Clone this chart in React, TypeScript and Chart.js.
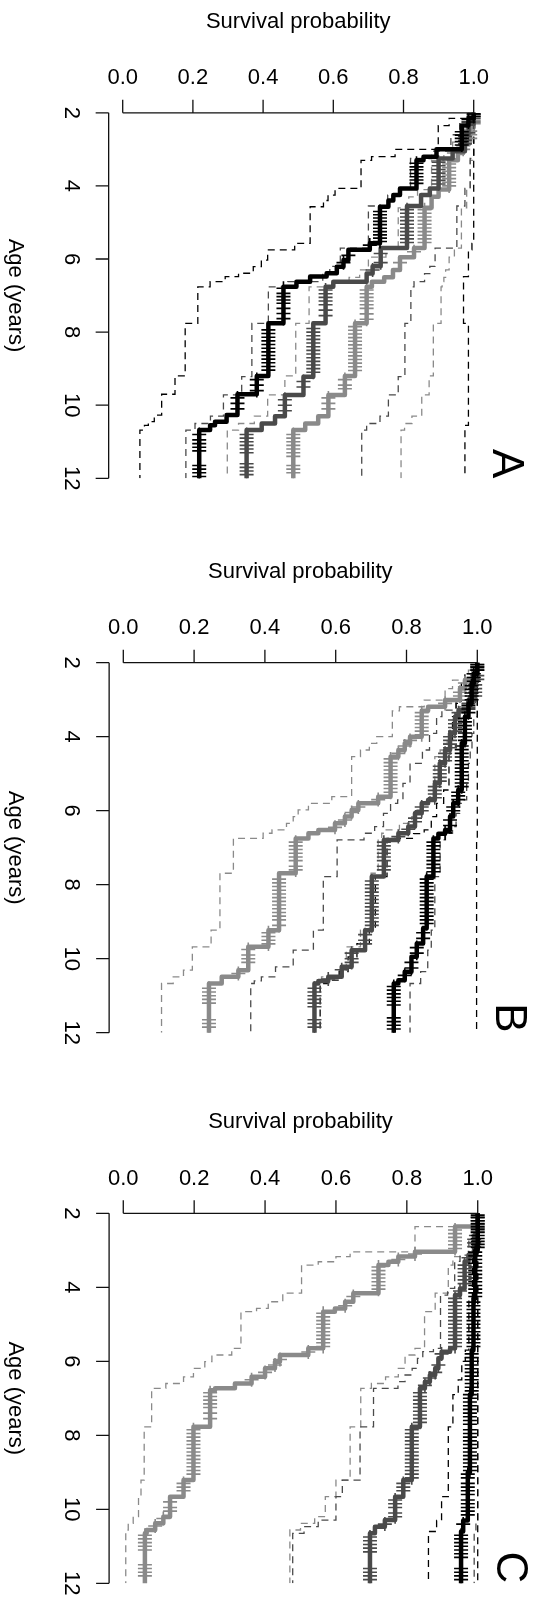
import React, { useEffect, useRef } from "react";
import { Chart, registerables } from "chart.js";

Chart.register(...registerables);

type Step = [number, number];

const ageTicks = [2, 4, 6, 8, 10, 12];
const survTicks = [0, 0.2, 0.4, 0.6, 0.8, 1.0];
const survTickLabels = ["0.0", "0.2", "0.4", "0.6", "0.8", "1.0"];
const xTitle = "Survival probability";
const yTitle = "Age (years)";
const ageMax = 12;

// ---------- Panel A ----------
const aBlack: Step[] = [[2,1],[2.15,0.985],[2.35,0.966],[3.0,0.894],[3.2,0.857],[3.3,0.837],[4.07,0.79],[4.25,0.771],[4.4,0.757],[4.57,0.733],[5.57,0.704],[5.75,0.643],[6.03,0.629],[6.21,0.61],[6.39,0.581],[6.48,0.534],[6.62,0.495],[6.76,0.458],[7.76,0.415],[9.2,0.382],[9.7,0.327],[10.27,0.296],[10.45,0.263],[10.55,0.249],[10.68,0.218]];
const aBlackLo: Step[] = [[2,1],[2.15,0.93],[2.35,0.899],[3.0,0.776],[3.2,0.709],[3.3,0.679],[4.07,0.605],[4.25,0.585],[4.4,0.572],[4.57,0.534],[5.57,0.49],[5.75,0.413],[6.03,0.395],[6.21,0.372],[6.39,0.33],[6.48,0.292],[6.62,0.249],[6.76,0.214],[7.76,0.178],[9.2,0.149],[9.7,0.111],[10.27,0.09],[10.45,0.073],[10.55,0.062],[10.68,0.049]];
const aBlackHi: Step[] = [[2,1],[5.57,0.995],[5.75,0.985],[6.48,0.971],[7.76,0.985],[10.55,0.975]];
const aBlackCens = [2.03,2.1,2.18,2.25,2.52,2.61,2.7,2.79,2.88,3.38,3.48,3.56,3.66,3.75,3.84,3.93,4.7,4.79,4.88,4.97,5.06,5.16,5.25,5.34,5.43,5.52,5.62,5.9,6.1,6.8,6.94,7.03,7.12,7.21,7.35,7.49,7.63,7.94,8.04,8.14,8.24,8.34,8.44,8.54,8.64,8.74,8.84,8.94,9.04,9.3,9.45,9.6,9.8,9.95,10.1,10.8,10.95,11.05,11.15,11.25,11.65,11.75,11.85,11.95];

const aDark: Step[] = [[2,1],[2.3,0.985],[2.6,0.975],[3.05,0.94],[3.25,0.9],[4.07,0.875],[4.25,0.85],[4.55,0.81],[5.7,0.735],[6.2,0.712],[6.4,0.695],[6.62,0.6],[6.76,0.578],[7.76,0.543],[9.22,0.515],[9.72,0.462],[10.3,0.434],[10.5,0.396],[10.68,0.353]];
const aDarkLo: Step[] = [[2,1],[2.3,0.96],[2.6,0.935],[3.05,0.88],[3.25,0.82],[4.07,0.785],[4.25,0.755],[4.55,0.7],[5.7,0.62],[6.2,0.59],[6.4,0.57],[6.62,0.47],[6.76,0.415],[7.76,0.368],[9.22,0.339],[9.72,0.287],[10.3,0.25],[10.5,0.206],[10.68,0.18]];
const aDarkHi: Step[] = [[2,1],[3.25,0.99],[4.07,0.975],[4.55,0.952],[5.7,0.89],[6.2,0.875],[6.4,0.86],[6.62,0.83],[6.76,0.821],[7.76,0.804],[9.22,0.785],[9.72,0.757],[10.3,0.733],[10.5,0.695],[10.68,0.681]];
const aDarkCens = [2.05,2.15,2.25,2.55,2.65,2.75,2.85,3.35,3.45,3.55,3.65,3.75,3.85,3.95,4.65,4.75,4.85,4.95,5.05,5.15,5.25,5.35,5.45,5.55,5.85,6.1,6.3,6.85,6.95,7.05,7.15,7.25,7.4,7.55,7.9,8.0,8.1,8.2,8.3,8.4,8.5,8.6,8.7,8.8,8.9,9.0,9.1,9.35,9.5,9.85,10.0,10.15,10.8,10.9,11.0,11.1,11.2,11.3,11.6,11.7,11.8,11.9];

const aLight: Step[] = [[2,1],[2.4,0.99],[2.8,0.97],[3.1,0.955],[3.3,0.93],[4.1,0.9],[4.3,0.88],[4.6,0.86],[5.7,0.83],[5.95,0.79],[6.3,0.77],[6.5,0.745],[6.62,0.71],[6.76,0.695],[7.76,0.662],[9.2,0.633],[9.72,0.586],[10.3,0.557],[10.5,0.52],[10.68,0.486]];
const aLightLo: Step[] = [[2,1],[2.4,0.975],[2.8,0.94],[3.1,0.915],[3.3,0.88],[4.1,0.84],[4.3,0.815],[4.6,0.785],[5.7,0.75],[5.95,0.7],[6.3,0.675],[6.5,0.645],[6.62,0.6],[6.76,0.531],[7.76,0.493],[9.2,0.462],[9.72,0.413],[10.3,0.375],[10.5,0.33],[10.68,0.298]];
const aLightHi: Step[] = [[2,1],[3.3,0.99],[4.1,0.98],[4.6,0.965],[5.7,0.945],[5.95,0.93],[6.3,0.92],[6.5,0.915],[6.62,0.91],[6.76,0.907],[7.76,0.885],[9.2,0.873],[9.72,0.852],[10.3,0.824],[10.5,0.803],[10.68,0.793]];
const aLightCens = [2.1,2.2,2.3,2.5,2.6,2.7,2.9,3.0,3.4,3.5,3.6,3.7,3.8,3.9,4.0,4.65,4.75,4.85,4.95,5.05,5.15,5.25,5.35,5.45,5.55,5.8,6.1,6.85,6.95,7.05,7.15,7.25,7.35,7.5,7.65,7.85,7.95,8.05,8.15,8.25,8.35,8.45,8.55,8.65,8.75,8.85,8.95,9.05,9.3,9.45,9.55,9.8,9.95,10.1,10.8,10.9,11.0,11.1,11.2,11.3,11.4,11.65,11.75,11.85];

// ---------- Panel B ----------
const bBlack: Step[] = [[2,1],[2.3,0.99],[2.56,0.984],[3.1,0.975],[3.46,0.965],[4.18,0.956],[5.44,0.946],[5.8,0.932],[6.16,0.923],[6.52,0.909],[6.62,0.89],[6.75,0.876],[7.78,0.857],[9.18,0.847],[9.59,0.829],[9.95,0.814],[10.35,0.795],[10.58,0.777],[10.67,0.764]];
const bBlackLo: Step[] = [[2,1],[2.3,0.965],[2.56,0.955],[3.1,0.94],[3.46,0.93],[4.18,0.92],[5.44,0.905],[5.8,0.885],[6.16,0.87],[6.52,0.85],[6.62,0.82],[6.75,0.745],[7.78,0.712],[9.18,0.695],[9.59,0.66],[9.95,0.635],[10.35,0.61],[10.58,0.58],[10.67,0.556]];
const bBlackHi: Step[] = [[2,1],[6.75,0.998]];
const bBlackCens = [2.05,2.12,2.2,2.3,2.4,2.5,2.62,2.72,2.82,2.9,3.0,3.15,3.25,3.35,3.5,3.6,3.7,3.8,3.9,4.0,4.1,4.25,4.35,4.45,4.55,4.65,4.75,4.85,4.95,5.05,5.15,5.25,5.35,5.5,5.6,5.7,5.9,6.0,6.25,6.4,6.6,6.85,6.95,7.05,7.15,7.25,7.35,7.45,7.55,7.65,7.85,7.95,8.05,8.15,8.25,8.35,8.45,8.55,8.65,8.75,8.85,8.95,9.05,9.3,9.45,9.7,9.85,10.1,10.25,10.45,10.75,10.85,10.95,11.05,11.15,11.25,11.6,11.7,11.8,11.9];

const bDark: Step[] = [[2,1],[2.5,0.994],[3.01,0.975],[3.28,0.947],[3.46,0.937],[3.91,0.923],[4.36,0.909],[4.72,0.894],[5.26,0.88],[5.71,0.861],[5.8,0.843],[6.07,0.824],[6.43,0.805],[6.61,0.777],[6.79,0.736],[7.78,0.702],[9.23,0.683],[9.77,0.645],[10.22,0.617],[10.49,0.579],[10.6,0.551],[10.67,0.54]];
const bDarkLo: Step[] = [[2,1],[2.5,0.98],[3.01,0.94],[3.28,0.9],[3.46,0.885],[3.91,0.865],[4.36,0.845],[4.72,0.81],[5.26,0.79],[5.71,0.775],[5.8,0.755],[6.07,0.735],[6.43,0.71],[6.61,0.68],[6.79,0.604],[7.78,0.565],[9.23,0.537],[9.77,0.48],[10.22,0.43],[10.49,0.39],[10.6,0.37],[10.67,0.36]];
const bDarkHi: Step[] = [[2,1],[3.46,0.99],[3.91,0.985],[4.36,0.98],[4.72,0.975],[5.26,0.97],[5.71,0.96],[5.8,0.95],[6.07,0.94],[6.43,0.93],[6.61,0.91],[6.79,0.895],[7.78,0.88],[9.23,0.87],[9.77,0.86],[10.35,0.84],[10.67,0.81]];
const bDarkCens = [2.1,2.2,2.35,2.45,2.6,2.7,2.8,2.9,3.1,3.2,3.35,3.55,3.65,3.75,3.85,4.0,4.1,4.2,4.3,4.45,4.55,4.65,4.8,4.9,5.0,5.1,5.2,5.35,5.45,5.55,5.65,5.9,6.0,6.2,6.3,6.5,6.7,6.85,6.95,7.05,7.15,7.25,7.35,7.5,7.6,7.9,8.0,8.1,8.2,8.3,8.4,8.5,8.6,8.7,8.8,8.9,9.0,9.1,9.35,9.5,9.6,9.85,10.0,10.1,10.3,10.55,10.8,10.9,11.0,11.1,11.2,11.3,11.65,11.75,11.85];

const bLight: Step[] = [[2,1],[2.2,0.989],[2.47,0.965],[2.7,0.951],[3.01,0.909],[3.19,0.861],[3.3,0.843],[4.0,0.81],[4.18,0.795],[4.36,0.777],[4.54,0.755],[5.62,0.72],[5.8,0.664],[5.98,0.645],[6.16,0.626],[6.34,0.598],[6.52,0.551],[6.61,0.523],[6.75,0.487],[7.69,0.44],[9.23,0.41],[9.68,0.353],[10.31,0.325],[10.49,0.278],[10.67,0.242]];
const bLightLo: Step[] = [[2,1],[2.2,0.975],[2.47,0.93],[2.7,0.909],[3.01,0.85],[3.19,0.78],[3.3,0.76],[4.0,0.716],[4.18,0.695],[4.36,0.67],[4.54,0.645],[5.62,0.589],[5.8,0.523],[5.98,0.494],[6.16,0.48],[6.34,0.461],[6.52,0.42],[6.61,0.395],[6.75,0.311],[7.69,0.273],[9.23,0.248],[9.68,0.195],[10.31,0.17],[10.49,0.141],[10.67,0.108]];
const bLightHi: Step[] = [[2,1],[3.01,0.97],[3.19,0.95],[3.3,0.94],[4.0,0.915],[4.18,0.905],[4.36,0.895],[4.54,0.88],[5.62,0.865],[5.8,0.84],[5.98,0.83],[6.16,0.815],[6.34,0.78],[6.52,0.74],[6.61,0.73],[6.75,0.72],[7.69,0.7],[9.23,0.67],[9.68,0.63],[10.31,0.61],[10.49,0.56],[10.67,0.54]];
const bLightCens = [2.05,2.15,2.3,2.4,2.55,2.65,2.8,2.9,3.1,3.35,3.45,3.55,3.65,3.75,3.85,3.95,4.1,4.25,4.45,4.6,4.7,4.8,4.9,5.0,5.1,5.2,5.3,5.4,5.5,5.7,5.9,6.05,6.25,6.45,6.85,6.95,7.05,7.15,7.25,7.35,7.5,7.6,7.85,7.95,8.05,8.15,8.25,8.35,8.45,8.55,8.65,8.75,8.85,8.95,9.1,9.3,9.4,9.5,9.6,9.75,9.9,10.0,10.1,10.4,10.8,10.9,11.0,11.1,11.2,11.65,11.75,11.85];

// ---------- Panel C ----------
const cBlack: Step[] = [[2,1],[3.0,0.993],[4.3,0.988],[5.7,0.983],[6.9,0.978],[9.0,0.972],[10.3,0.959],[10.6,0.953]];
const cBlackLo: Step[] = [[2,1],[3.0,0.985],[4.3,0.975],[5.7,0.965],[6.0,0.955],[6.5,0.945],[6.9,0.93],[7.77,0.917],[9.66,0.898],[10.3,0.884],[10.6,0.861]];
const cBlackHi: Step[] = [[2,1]];
const cBlackCens = [2.05,2.12,2.2,2.28,2.36,2.44,2.52,2.6,2.68,2.76,2.84,2.92,3.05,3.15,3.25,3.35,3.45,3.55,3.65,3.75,3.85,3.95,4.05,4.15,4.25,4.4,4.5,4.6,4.7,4.8,4.9,5.0,5.1,5.2,5.3,5.4,5.5,5.6,5.8,5.9,6.0,6.1,6.2,6.3,6.4,6.5,6.6,6.7,6.8,6.9,7.0,7.1,7.2,7.3,7.4,7.5,7.6,7.7,7.85,7.95,8.05,8.15,8.25,8.35,8.45,8.55,8.65,8.75,8.85,8.95,9.05,9.15,9.3,9.4,9.5,9.6,9.75,9.85,9.95,10.05,10.15,10.4,10.7,10.8,10.9,11.0,11.1,11.2,11.3,11.6,11.7,11.8,11.9];

const cDark: Step[] = [[2,1],[2.6,0.99],[3.13,0.974],[3.3,0.963],[4.03,0.95],[4.21,0.936],[5.65,0.922],[5.74,0.898],[5.92,0.889],[6.19,0.88],[6.37,0.865],[6.55,0.851],[6.73,0.837],[7.77,0.814],[9.21,0.79],[9.66,0.767],[10.29,0.738],[10.47,0.71],[10.65,0.696]];
const cDarkLo: Step[] = [[2,1],[2.6,0.975],[3.13,0.95],[3.3,0.935],[4.03,0.915],[4.21,0.895],[5.65,0.875],[5.74,0.845],[5.92,0.83],[6.19,0.815],[6.37,0.795],[6.55,0.775],[6.73,0.706],[7.77,0.668],[9.21,0.618],[9.66,0.6],[10.29,0.55],[10.47,0.51],[10.65,0.478]];
const cDarkHi: Step[] = [[2,1],[10.29,0.995],[10.65,0.99]];
const cDarkCens = [2.1,2.2,2.3,2.4,2.5,2.7,2.8,2.9,3.2,3.4,3.5,3.6,3.7,3.8,3.9,4.1,4.3,4.4,4.5,4.6,4.7,4.8,4.9,5.0,5.1,5.2,5.3,5.4,5.5,5.6,5.8,6.1,6.3,6.45,6.65,6.85,6.95,7.05,7.15,7.25,7.35,7.45,7.55,7.65,7.85,7.95,8.05,8.15,8.25,8.35,8.45,8.55,8.65,8.75,8.85,8.95,9.05,9.15,9.3,9.4,9.5,9.75,9.85,9.95,10.1,10.2,10.4,10.75,10.85,10.95,11.05,11.15,11.6,11.7,11.8,11.9];

const cLight: Step[] = [[2,1],[2.36,0.936],[3.04,0.823],[3.17,0.776],[3.31,0.748],[3.4,0.72],[4.16,0.649],[4.39,0.626],[4.57,0.597],[4.66,0.564],[5.65,0.522],[5.83,0.442],[6.01,0.428],[6.19,0.4],[6.42,0.362],[6.6,0.315],[6.73,0.259],[6.78,0.245],[7.77,0.198],[9.21,0.17],[9.66,0.132],[10.2,0.113],[10.38,0.09],[10.56,0.066],[10.65,0.061]];
const cLightLo: Step[] = [[2,1],[2.36,0.823],[3.04,0.64],[3.17,0.6],[3.31,0.55],[3.4,0.503],[4.16,0.45],[4.39,0.409],[4.57,0.376],[4.66,0.332],[5.65,0.306],[5.83,0.25],[6.01,0.23],[6.19,0.198],[6.42,0.17],[6.6,0.12],[6.73,0.08],[7.77,0.059],[9.21,0.05],[9.66,0.043],[10.2,0.028],[10.38,0.014],[10.56,0.007]];
const cLightHi: Step[] = [[2,1],[3.04,0.99],[3.17,0.93],[3.4,0.917],[4.16,0.88],[4.66,0.85],[5.65,0.823],[5.83,0.795],[6.19,0.776],[6.42,0.74],[6.6,0.7],[6.73,0.67],[7.77,0.64],[9.21,0.6],[9.66,0.57],[10.2,0.54],[10.38,0.5],[10.56,0.47]];
const cLightCens = [2.1,2.2,2.45,2.55,2.65,2.75,2.85,2.95,3.1,3.25,3.45,3.55,3.65,3.75,3.85,3.95,4.05,4.25,4.5,4.7,4.8,4.9,5.0,5.1,5.2,5.3,5.4,5.5,5.6,5.75,5.95,6.1,6.3,6.5,6.85,6.95,7.05,7.15,7.25,7.4,7.55,7.85,7.95,8.05,8.15,8.25,8.35,8.45,8.55,8.65,8.75,8.85,8.95,9.05,9.3,9.4,9.5,9.8,9.95,10.05,10.25,10.45,10.7,10.8,10.9,11.0,11.1,11.5,11.6,11.7,11.8];

// ---------- styling ----------
const BLACK = "#000000";
const DARK = "#4a4a4a";
const LIGHT = "#8a8a8a";
const FONT = '22px "Liberation Sans", Arial, Helvetica, sans-serif';
const LETTER_FONT = '44px "Liberation Sans", Arial, Helvetica, sans-serif';

type Group = { curve: Step[]; lo: Step[]; hi: Step[]; cens: number[]; color: string };

type PanelCfg = {
  letter: string;
  top: number;
  height: number;
  pad: { left: number; right: number; top: number; bottom: number };
  groups: Group[];
};

const panels: PanelCfg[] = [
  {
    letter: "A", top: 0, height: 530,
    pad: { left: 108.66, right: 50.26, top: 112.8, bottom: 51.7 },
    groups: [
      { curve: aLight, lo: aLightLo, hi: aLightHi, cens: aLightCens, color: LIGHT },
      { curve: aDark, lo: aDarkLo, hi: aDarkHi, cens: aDarkCens, color: DARK },
      { curve: aBlack, lo: aBlackLo, hi: aBlackHi, cens: aBlackCens, color: BLACK },
    ],
  },
  {
    letter: "B", top: 530, height: 545,
    pad: { left: 109.14, right: 46.54, top: 132.7, bottom: 42.3 },
    groups: [
      { curve: bLight, lo: bLightLo, hi: bLightHi, cens: bLightCens, color: LIGHT },
      { curve: bDark, lo: bDarkLo, hi: bDarkHi, cens: bDarkCens, color: DARK },
      { curve: bBlack, lo: bBlackLo, hi: bBlackHi, cens: bBlackCens, color: BLACK },
    ],
  },
  {
    letter: "C", top: 1075, height: 525,
    pad: { left: 109.1, right: 46.1, top: 138.3, bottom: 16.7 },
    groups: [
      { curve: cLight, lo: cLightLo, hi: cLightHi, cens: cLightCens, color: LIGHT },
      { curve: cDark, lo: cDarkLo, hi: cDarkHi, cens: cDarkCens, color: DARK },
      { curve: cBlack, lo: cBlackLo, hi: cBlackHi, cens: cBlackCens, color: BLACK },
    ],
  },
];

function stepPoints(steps: Step[]) {
  const pts = steps.map(([a, s]) => ({ x: s, y: a }));
  pts.push({ x: steps[steps.length - 1][1], y: ageMax });
  return pts;
}

function survAt(steps: Step[], age: number) {
  let s = steps[0][1];
  for (const [a, v] of steps) {
    if (a <= age) s = v;
    else break;
  }
  return s;
}

function buildDatasets(groups: Group[]) {
  const ds: any[] = [];
  const n = groups.length;
  groups.forEach((g, i) => {
    const base = (n - i) * 3;
    [g.lo, g.hi].forEach((ci) => {
      ds.push({
        type: "line",
        data: stepPoints(ci),
        borderColor: g.color,
        borderWidth: 1.3,
        borderDash: [7, 5],
        stepped: "after",
        pointRadius: 0,
        fill: false,
        order: 100 + base,
      });
    });
    ds.push({
      type: "line",
      data: stepPoints(g.curve),
      borderColor: g.color,
      borderWidth: 4.5,
      borderCapStyle: "round",
      borderJoinStyle: "round",
      stepped: "after",
      pointRadius: 0,
      fill: false,
      order: base + 1,
    });
    ds.push({
      type: "line",
      data: g.cens.map((a) => ({ x: survAt(g.curve, a), y: a })),
      showLine: false,
      pointStyle: "cross",
      pointRadius: 7,
      pointBorderWidth: 1.6,
      pointBorderColor: g.color,
      pointBackgroundColor: g.color,
      order: base,
    });
  });
  return ds;
}

function makeAxesPlugin(letter: string) {
  return {
    id: "rAxes" + letter,
    afterDraw(chart: any) {
      const { ctx, chartArea, scales } = chart;
      const xs = scales.x;
      const ys = scales.y;
      const top = chartArea.top;
      const left = chartArea.left;
      ctx.save();
      ctx.strokeStyle = "#111";
      ctx.lineWidth = 1.3;
      ctx.lineCap = "butt";
      ctx.setLineDash([]);
      ctx.beginPath();
      ctx.moveTo(xs.getPixelForValue(survTicks[0]), top);
      ctx.lineTo(xs.getPixelForValue(survTicks[survTicks.length - 1]), top);
      survTicks.forEach((v) => {
        const px = xs.getPixelForValue(v);
        ctx.moveTo(px, top);
        ctx.lineTo(px, top - 13);
      });
      ctx.moveTo(left, ys.getPixelForValue(ageTicks[0]));
      ctx.lineTo(left, ys.getPixelForValue(ageTicks[ageTicks.length - 1]));
      ageTicks.forEach((v) => {
        const py = ys.getPixelForValue(v);
        ctx.moveTo(left, py);
        ctx.lineTo(left - 13, py);
      });
      ctx.stroke();

      ctx.fillStyle = "#000";
      ctx.font = FONT;
      ctx.textAlign = "center";
      ctx.textBaseline = "alphabetic";
      survTicks.forEach((v, i) => {
        ctx.fillText(survTickLabels[i], xs.getPixelForValue(v), top - 28.5);
      });
      ctx.fillText(xTitle, (chartArea.left + chartArea.right) / 2, top - 85.2);

      ageTicks.forEach((v) => {
        ctx.save();
        ctx.translate(left - 44, ys.getPixelForValue(v));
        ctx.rotate(Math.PI / 2);
        ctx.fillText(String(v), 0, 0);
        ctx.restore();
      });

      ctx.save();
      ctx.translate(left - 100, (chartArea.top + chartArea.bottom) / 2);
      ctx.rotate(Math.PI / 2);
      ctx.fillText(yTitle, 0, 0);
      ctx.restore();

      ctx.save();
      ctx.font = LETTER_FONT;
      ctx.translate(chartArea.right + 5, chartArea.bottom);
      ctx.rotate(Math.PI / 2);
      ctx.textAlign = "right";
      ctx.fillText(letter, 0, 0);
      ctx.restore();

      ctx.restore();
    },
  };
}

function Panel({ cfg }: { cfg: PanelCfg }) {
  const ref = useRef<HTMLCanvasElement | null>(null);
  useEffect(() => {
    if (!ref.current) return;
    const chart = new Chart(ref.current, {
      type: "line",
      data: { datasets: buildDatasets(cfg.groups) },
      options: {
        animation: false,
        responsive: false,
        events: [],
        devicePixelRatio: 1,
        layout: { padding: cfg.pad },
        plugins: { legend: { display: false }, tooltip: { enabled: false }, title: { display: false } },
        scales: {
          x: { type: "linear", min: -0.04, max: 1.04, display: false },
          y: { type: "linear", min: 2, max: 12, reverse: true, display: false },
        },
      },
      plugins: [makeAxesPlugin(cfg.letter)],
    } as any);
    return () => chart.destroy();
  }, [cfg]);
  return (
    <canvas
      ref={ref}
      width={538}
      height={cfg.height}
      style={{ position: "absolute", left: 0, top: cfg.top, width: 538, height: cfg.height }}
    />
  );
}

export default function App() {
  return (
    <div style={{ position: "absolute", left: 0, top: 0, width: 538, height: 1600, background: "#fff" }}>
      {panels.map((p) => (
        <Panel key={p.letter} cfg={p} />
      ))}
    </div>
  );
}
